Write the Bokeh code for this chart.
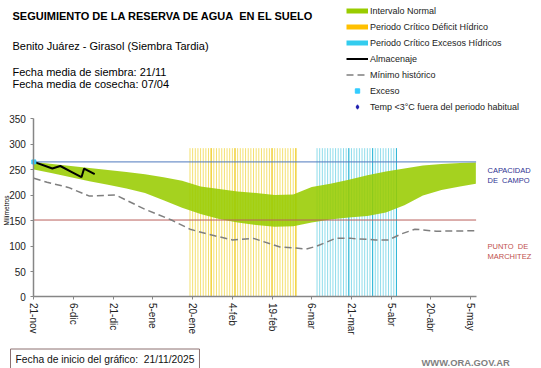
from bokeh.plotting import figure
from bokeh.models import Range1d, FixedTicker, Label, Legend, LegendItem
from bokeh.embed import file_html
from bokeh.resources import INLINE

# ---------------- data ----------------
tick_days = [0, 15, 30, 45, 60, 75, 90, 105, 120, 135, 150, 165]
tick_labels = ["21-nov", "6-dic", "21-dic", "5-ene", "20-ene", "4-feb", "19-feb",
               "6-mar", "21-mar", "5-abr", "20-abr", "5-may"]
y_ticks = [0, 50, 100, 150, 200, 250, 300, 350]

band_days = [0, 7, 14, 21, 28, 35, 42, 49, 56, 63, 70, 77, 84, 91, 98, 105, 112,
             119, 126, 133, 140, 147, 154, 161, 167]
band_upper = [265, 261, 257, 253, 249, 245, 241, 235, 228, 217, 212, 207, 204, 200,
              201, 216, 222, 230, 239, 246, 252, 258, 261, 263, 264]
band_lower = [250, 243, 235, 227, 220, 213, 204, 190, 175, 163, 153, 146, 141, 138,
              139, 146, 152, 156, 159, 166, 180, 199, 210, 217, 222]

min_days = [0, 5, 13, 21, 31, 42, 52, 59, 66, 75, 83, 93, 99, 103, 107, 114, 120,
            129, 134, 139, 144, 152, 167]
min_vals = [233, 225, 215, 198, 200, 172, 151, 133, 123, 112, 115, 98, 96, 94, 100,
            115, 115, 112, 112, 124, 133, 129, 130]

alm_days = [0, 7, 10, 14, 18, 19, 23]
alm_vals = [265, 252, 257, 246, 235, 252, 241]

exceso_days = [0]
exceso_vals = [265]

deficit_days = list(range(59, 100))      # 19-ene .. 28-feb
deficit_dark = [67, 76, 90, 99]
excesos_days = list(range(107, 138))     # 8-mar .. 7-abr
excesos_dark = [119, 128, 137]
period_top = 292

capacidad = 265
marchitez = 151
last_day = 167.1

FONT = "Liberation Sans"
W, H = 541, 368
NAN = float("nan")

# the frame covers the whole canvas; axes are placed at day 0 / value 0
p = figure(width=W, height=H, x_range=Range1d(-12.59, 191.8), y_range=Range1d(-140.3, 581.7),
           output_backend="svg", toolbar_location=None, min_border=0,
           extra_x_ranges={"px": Range1d(0, W)}, extra_y_ranges={"px": Range1d(H, 0)})
p.outline_line_color = None
p.xgrid.visible = False
p.ygrid.visible = False

# critical periods
p.segment(x0=deficit_days, y0=[0] * len(deficit_days), x1=deficit_days,
          y1=[period_top] * len(deficit_days), line_color="#F4E070", line_width=1)
p.segment(x0=deficit_dark, y0=[0] * len(deficit_dark), x1=deficit_dark,
          y1=[period_top] * len(deficit_dark), line_color="#EFC81A", line_width=1)
p.segment(x0=excesos_days, y0=[0] * len(excesos_days), x1=excesos_days,
          y1=[period_top] * len(excesos_days), line_color="#8FDCEB", line_width=1)
p.segment(x0=excesos_dark, y0=[0] * len(excesos_dark), x1=excesos_dark,
          y1=[period_top] * len(excesos_dark), line_color="#2DB5D6", line_width=1)

# normal interval
p.varea(x=band_days, y1=band_lower, y2=band_upper, fill_color="#99CC00", fill_alpha=0.88)

# field capacity / wilting point
p.line(x=[0, last_day], y=[capacidad, capacidad], line_color="#4F79BD", line_width=1)
p.line(x=[0, last_day], y=[marchitez, marchitez], line_color="#B9605C", line_width=1)

r_min = p.line(x=min_days, y=min_vals, line_color="#7F7F7F", line_width=1.5, line_dash="7 4")
r_alm = p.line(x=alm_days, y=alm_vals, line_color="black", line_width=2)
r_exc = p.scatter(x=exceso_days, y=exceso_vals, marker="square", size=4,
                  fill_color="#33CCFF", line_color="#33CCFF")

# legend proxies (no visible data)
g_g = p.line(x=[NAN], y=[NAN], line_color="#99CC00", line_width=5)
g_y = p.line(x=[NAN], y=[NAN], line_color="#FFC000", line_width=5)
g_c = p.line(x=[NAN], y=[NAN], line_color="#33CCEE", line_width=5)
g_e = p.scatter(x=[NAN], y=[NAN], marker="square", size=3,
                fill_color="#33CCFF", line_color="#33CCFF")
g_d = p.scatter(x=[NAN], y=[NAN], marker="diamond", size=6,
                fill_color="#1F1FB0", line_color="#1F1FB0")

legend = Legend(items=[
    LegendItem(label="Intervalo Normal", renderers=[g_g]),
    LegendItem(label="Periodo Crítico Déficit Hídrico", renderers=[g_y]),
    LegendItem(label="Periodo Crítico Excesos Hídricos", renderers=[g_c]),
    LegendItem(label="Almacenaje", renderers=[r_alm]),
    LegendItem(label="Mínimo histórico", renderers=[r_min]),
    LegendItem(label="Exceso", renderers=[g_e]),
    LegendItem(label="Temp <3°C fuera del periodo habitual", renderers=[g_d]),
], location=(346, 256), glyph_width=22, glyph_height=11, label_height=11,
   label_standoff=2, spacing=5, padding=0, margin=0,
   border_line_alpha=0, background_fill_alpha=0,
   label_text_font=FONT, label_text_font_size="9px", label_text_color="#222222")
p.add_layout(legend)

# axes
xa, ya = p.xaxis[0], p.yaxis[0]
xa.fixed_location = 0
ya.fixed_location = 0
xa.bounds = (0, last_day)
ya.bounds = (0, 350)
xa.ticker = FixedTicker(ticks=tick_days)
xa.major_label_overrides = {d: l for d, l in zip(tick_days, tick_labels)}
xa.major_label_orientation = "vertical"
ya.ticker = FixedTicker(ticks=y_ticks)
for ax in (xa, ya):
    ax.axis_line_color = "#868686"
    ax.axis_line_width = 1.5
    ax.major_tick_line_color = "#868686"
    ax.major_tick_out = 3
    ax.major_tick_in = 0
    ax.minor_tick_line_color = None
    ax.major_label_text_font = FONT
    ax.major_label_text_font_size = "10px"
    ax.major_label_text_color = "#222222"
xa.major_label_standoff = 3
ya.major_label_standoff = 5


def txt(text, x, y, size, color="#000000", style="normal", align="left", **kw):
    p.add_layout(Label(x=x, y=y, x_range_name="px", y_range_name="px", text=text,
                       text_font=FONT, text_font_size=size, text_color=color,
                       text_font_style=style, text_align=align, text_baseline="middle", **kw))


txt("SEGUIMIENTO DE LA RESERVA DE AGUA\u00a0 EN EL SUELO", 12, 15, "11px", style="bold")
txt("Benito Juárez - Girasol (Siembra Tardia)", 12, 45, "11px")
txt("Fecha media de siembra: 21/11", 12, 71, "11px")
txt("Fecha media de cosecha: 07/04", 12, 83, "11px")
txt("Milímetros", 6, 210, "6.5px", align="center", angle=1.5708)
txt("CAPACIDAD", 487, 170, "7.5px", color="#2E3192")
txt("DE\u00a0 CAMPO", 487, 180, "7.5px", color="#2E3192")
txt("PUNTO\u00a0 DE", 487, 246, "7.5px", color="#C0504D")
txt("MARCHITEZ", 487, 256, "7.5px", color="#C0504D")
txt("Fecha de inicio del gráfico:\u00a0 21/11/2025", 10, 359, "10.3px", color="#111111",
    border_line_color="#8C7070", border_line_width=1, padding=5)
txt("WWW.ORA.GOV.AR", 421, 362, "9.4px", color="#7F7F7F", style="bold")

open("out.html", "w").write(file_html(p, INLINE))
